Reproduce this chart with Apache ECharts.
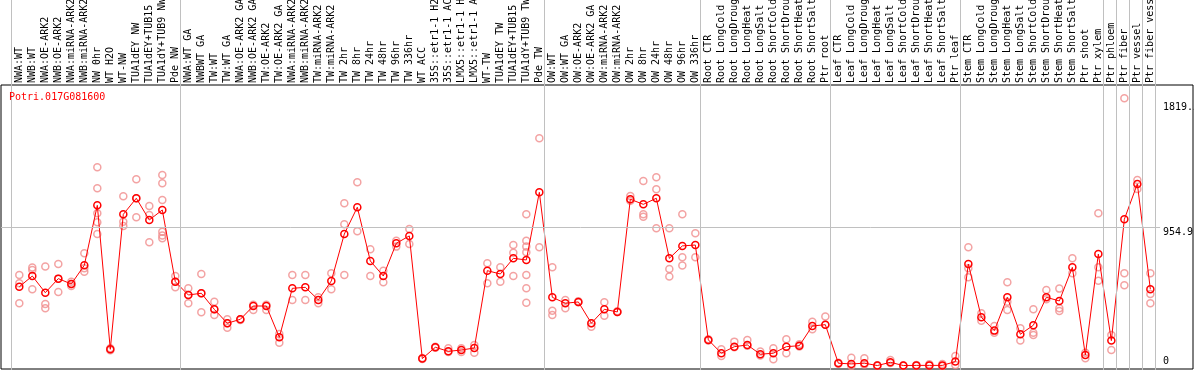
<!DOCTYPE html>
<html><head><meta charset="utf-8">
<script src="https://cdn.jsdelivr.net/npm/echarts@6/dist/echarts.min.js"></script>
<style>html,body{margin:0;padding:0;background:#fff}#c{width:1194px;height:370px}</style>
</head><body><div id="c"></div>
<script>
const geneId = 'Potri.017G081600';

const categories = [
  'NWA:WT','NWB:WT','NWA:OE-ARK2','NWB:OE-ARK2','NWA:miRNA-ARK2','NWB:miRNA-ARK2','NW 0hr','WT H2O','WT-NW',
  'TUA1dEY NW','TUA1dEY+TUB15 NW','TUA1dY+TUB9 NW','Pde NW',
  'NWA:WT GA','NWBWT GA','TW:WT','TW:WT GA','NWA:OE-ARK2 GA','NWB:OE-ARK2 GA','TW:OE-ARK2','TW:OE-ARK2 GA',
  'NWA:miRNA-ARK2 GA','NWB:miRNA-ARK2 GA','TW:miRNA-ARK2','TW:miRNA-ARK2 GA',
  'TW 2hr','TW 8hr','TW 24hr','TW 48hr','TW 96hr','TW 336hr','WT ACC',
  '35S::etr1-1 H2O','35S::etr1-1 ACC','LMX5::etr1-1 H2O','LMX5::etr1-1 ACC',
  'WT-TW','TUA1dEY TW','TUA1dEY+TUB15 TW','TUA1dY+TUB9 TW','Pde TW',
  'OW:WT','OW:WT GA','OW:OE-ARK2','OW:OE-ARK2 GA','OW:miRNA-ARK2','OW:miRNA-ARK2 GA',
  'OW 2hr','OW 8hr','OW 24hr','OW 48hr','OW 96hr','OW 336hr',
  'Root CTR','Root LongCold','Root LongDrought','Root LongHeat','Root LongSalt',
  'Root ShortCold','Root ShortDrought','Root ShortHeat','Root ShortSalt','Ptr root',
  'Leaf CTR','Leaf LongCold','Leaf LongDrought','Leaf LongHeat','Leaf LongSalt',
  'Leaf ShortCold','Leaf ShortDrought','Leaf ShortHeat','Leaf ShortSalt','Ptr leaf',
  'Stem CTR','Stem LongCold','Stem LongDrought','Stem LongHeat','Stem LongSalt',
  'Stem ShortCold','Stem ShortDrought','Stem ShortHeat','Stem ShortSalt','Ptr shoot','Ptr xylem',
  'Ptr phloem','Ptr fiber','Ptr vessel','Ptr fiber vessel'
];

const means = [
  547, 621, 506, 603, 566, 695, 1109, 115, 1047, 1158, 1008, 1077, 582,
  490, 502, 391, 295, 322, 414, 414, 198, 536, 543, 456, 587, 911, 1096, 725, 621, 847, 898,
  51, 129, 101, 110, 124, 658, 635, 743, 732, 1199,
  474, 433, 442, 295, 391, 373, 1151, 1116, 1158, 743, 829, 835,
  180, 88, 133, 145, 81, 88, 133, 140, 276, 285,
  19, 14, 19, 3, 25, 3, 4, 4, 4, 30,
  704, 336, 244, 474, 219, 281, 474, 449, 681, 76, 773,
  175, 1013, 1257, 530
];

const replicates = [
  [628,571,433],[679,663,530],[686,428,398],[704,603,511],[582,552,566],[778,651,674],
  [1372,1227,1054,992,911],[122,108],[1172,996,967],[1289,1158,1027],[1105,1043,854],
  [1319,1261,1146,927,882,900],[621,543,582],
  [536,433,490],[635,371,502],[444,352,391],[322,264,295],[322,318],[422,387],[422,387],
  [221,161],[628,456],[628,456],[474,433],[640,530],[1123,978,628],[1268,930],[806,621],
  [658,578],[865,824],[946,842],[55,48],[132,125],[122,96],[122,97],[145,92],[709,571],
  [681,582],[835,782,621],[1047,865,824,785,628,536,437],[1572,819],
  [681,382,352],[456,398],[446,440],[271,295],[440,347],[373,378],[1174,1140],
  [1277,1047,1030],[1303,1220,951],[951,670,617],[1047,751,693],[916,751],
  [184,176],[115,69],[168,130],[180,140],[99,72],[122,46],[184,88],[150,135],[306,253],[341,285],
  [15,22],[57,0],[53,10],[5,2],[41,20],[3,1],[6,2],[12,3],[14,0],[69,7],
  [819,674,612],[364,313],[276,230],[578,444,387],[260,175],[391,214,230],[525,460],
  [534,398,380],[743,640],[92,53],[1054,681,589],
  [214,110],[1848,640,557],[1284,1222],[640,497,433]
];

const groupStarts = [0, 13, 41, 53, 63, 73, 84, 85, 86, 87, 88];
const yTickValues = [0, 954.9, 1819.5];
const gridLineValue = 954.9;

const mono = 'DejaVu Sans Mono';
const X_MIN = -1.408, X_MAX = 90.28;

const repData = [];
replicates.forEach((arr, i) => arr.forEach(v => repData.push([i, v])));

const chart = echarts.init(document.getElementById('c'), null, {renderer: 'canvas'});
chart.setOption({
  animation: false,
  backgroundColor: '#ffffff',
  title: {
    text: geneId, left: 9, top: 92, padding: 0,
    textStyle: {color: '#ff0000', fontSize: 10, fontFamily: mono, fontWeight: 'normal'}
  },
  grid: [
    {left: 1, right: 1, top: 85, bottom: 1, show: true, borderColor: '#000', borderWidth: 1,
     backgroundColor: 'transparent', containLabel: false, outerBoundsMode: 'none'},
    {left: 1, right: 1, top: 0, bottom: 0, containLabel: false, outerBoundsMode: 'none'}
  ],
  xAxis: [
    {
      gridIndex: 0, type: 'value', position: 'top', min: X_MIN, max: X_MAX,
      axisLine: {show: false}, axisTick: {show: false}, splitLine: {show: false},
      axisLabel: {
        customValues: categories.map((_, i) => i),
        formatter: v => categories[Math.round(v)] || '',
        rotate: 90, margin: 2, fontSize: 10, fontFamily: mono, color: '#000'
      }
    },
    {gridIndex: 1, type: 'value', min: X_MIN, max: X_MAX, show: false}
  ],
  yAxis: [
    {
      gridIndex: 0, type: 'value', position: 'right', offset: -38, min: -21, max: 1940,
      axisLine: {show: false}, axisTick: {show: false}, splitLine: {show: false},
      axisLabel: {
        customValues: yTickValues,
        formatter: v => String(v),
        verticalAlign: 'top', verticalAlignMinLabel: 'bottom', align: 'left',
        margin: 8, fontSize: 10, fontFamily: mono, color: '#000'
      }
    },
    {gridIndex: 1, type: 'value', min: 0, max: 1, show: false}
  ],
  series: [
    {
      type: 'line', xAxisIndex: 1, yAxisIndex: 1, data: [], silent: true, z: 1,
      markLine: {
        silent: true, symbol: 'none', animation: false, label: {show: false},
        lineStyle: {color: '#c0c0c0', width: 1, type: 'solid'},
        data: groupStarts.map(s => ({xAxis: s - 0.65}))
      }
    },
    {
      type: 'line', xAxisIndex: 0, yAxisIndex: 0, data: [], silent: true, z: 1,
      markLine: {
        silent: true, symbol: 'none', animation: false, label: {show: false},
        lineStyle: {color: '#c0c0c0', width: 1, type: 'solid'},
        data: [[{coord: [X_MIN, gridLineValue]}, {coord: [87.75, gridLineValue]}]]
      }
    },
    {
      type: 'scatter', xAxisIndex: 0, yAxisIndex: 0, data: repData, z: 3,
      symbol: 'circle', symbolSize: 7,
      itemStyle: {color: 'rgba(0,0,0,0)', borderColor: '#f08c8c', borderWidth: 1.5}
    },
    {
      type: 'line', xAxisIndex: 0, yAxisIndex: 0, data: means.map((v, i) => [i, v]), z: 4,
      symbol: 'circle', symbolSize: 7, showSymbol: true,
      itemStyle: {color: 'rgba(0,0,0,0)', borderColor: '#ff0000', borderWidth: 1.5},
      lineStyle: {color: '#ff0000', width: 1}
    }
  ]
});
</script>
</body></html>
